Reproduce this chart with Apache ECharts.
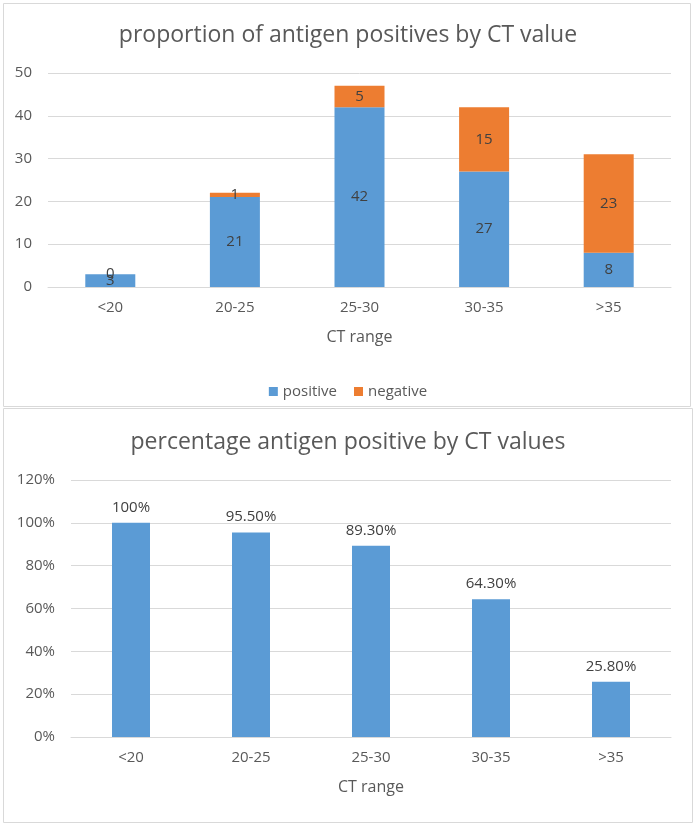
<!DOCTYPE html>
<html><head><meta charset="utf-8">
<script src="https://cdn.jsdelivr.net/npm/echarts@6/dist/echarts.min.js"></script>
<style>html,body{margin:0;padding:0;background:#fff}#c{width:696px;height:825px}</style>
</head><body><div id="c"></div>
<script>
var categories = ['<20','20-25','25-30','30-35','>35'];
var positive = [3,21,42,27,8];
var negative = [0,1,5,15,23];
var percentPositive = [1.0,0.955,0.893,0.643,0.258];
var percentLabels = ['100%','95.50%','89.30%','64.30%','25.80%'];
var countTicks = [0,10,20,30,40,50];
var FONT = 'Open Sans';
var TXT = '#595959';
var chart = echarts.init(document.getElementById('c'), null, {renderer:'canvas'});
function xAxis(gi){
  return {type:'category', gridIndex:gi, data:categories,
    name:'CT range', nameLocation:'middle', nameGap:42,
    nameTextStyle:{color:TXT,fontSize:16,fontFamily:FONT},
    axisLine:{lineStyle:{color:'#d9d9d9'}}, axisTick:{show:false},
    axisLabel:{color:TXT,fontSize:15,fontFamily:FONT,margin:13}};
}
chart.setOption({
  animation:false,
  graphic:[
    {type:'rect',shape:{x:3.5,y:3.5,width:687,height:403},style:{fill:'none',stroke:'#d9d9d9',lineWidth:1}},
    {type:'rect',shape:{x:3.5,y:408.5,width:689,height:414},style:{fill:'none',stroke:'#d9d9d9',lineWidth:1}}
  ],
  title:[
    {text:'proportion of antigen positives by CT value',left:'center',top:19,
     textStyle:{color:TXT,fontSize:23,fontWeight:'normal',fontFamily:FONT}},
    {text:'percentage antigen positive by CT values',left:'center',top:426,
     textStyle:{color:TXT,fontSize:23,fontWeight:'normal',fontFamily:FONT}}
  ],
  legend:{data:['positive','negative'],left:'center',top:379,itemWidth:9,itemHeight:9,itemGap:17,
    icon:'rect',textStyle:{color:TXT,fontSize:15,fontFamily:FONT}},
  grid:[
    {left:48,right:25,top:73,height:214},
    {left:71,right:25,top:480,height:257}
  ],
  xAxis:[xAxis(0),xAxis(1)],
  yAxis:[
    {type:'value',gridIndex:0,min:countTicks[0],max:countTicks[countTicks.length-1],interval:10,
     axisLine:{show:false},axisTick:{show:false},splitLine:{lineStyle:{color:'#d9d9d9'}},
     axisLabel:{color:TXT,fontSize:15,fontFamily:FONT,margin:16}},
    {type:'value',gridIndex:1,min:0,max:1.2,interval:0.2,
     axisLine:{show:false},axisTick:{show:false},splitLine:{lineStyle:{color:'#d9d9d9'}},
     axisLabel:{color:TXT,fontSize:15,fontFamily:FONT,margin:16,
       formatter:function(v){return Math.round(v*100)+'%';}}}
  ],
  series:[
    {name:'positive',type:'bar',stack:'a',xAxisIndex:0,yAxisIndex:0,data:positive,barWidth:50,
     itemStyle:{color:'#5B9BD5'},
     label:{show:true,position:'inside',color:'#404040',fontSize:15,fontFamily:FONT}},
    {name:'negative',type:'bar',stack:'a',xAxisIndex:0,yAxisIndex:0,data:negative,barWidth:50,
     itemStyle:{color:'#ED7D31'},
     label:{show:true,position:'inside',color:'#404040',fontSize:15,fontFamily:FONT}},
    {name:'pct',type:'bar',xAxisIndex:1,yAxisIndex:1,data:percentPositive,barWidth:38,
     itemStyle:{color:'#5B9BD5'},
     label:{show:true,position:'top',distance:8,color:'#404040',fontSize:15,fontFamily:FONT,
       formatter:function(p){return percentLabels[p.dataIndex];}}}
  ]
});
</script></body></html>
